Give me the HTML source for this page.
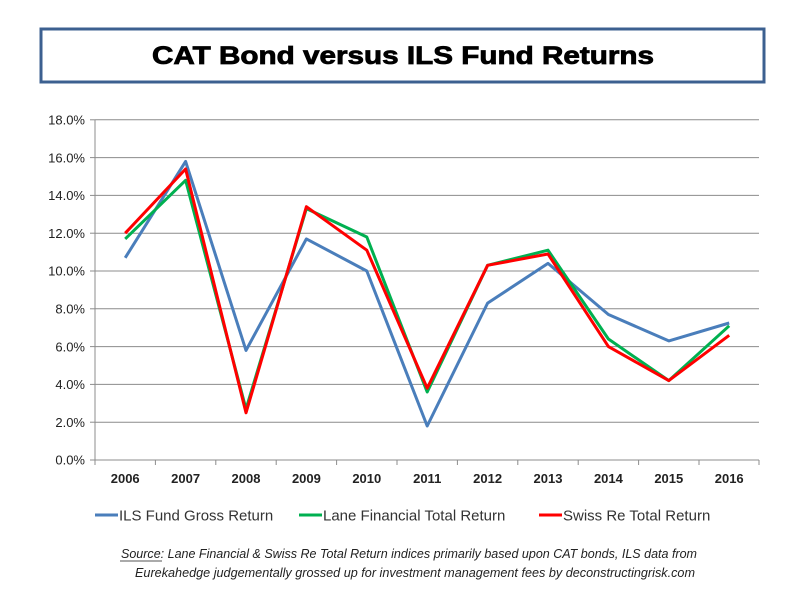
<!DOCTYPE html>
<html><head><meta charset="utf-8"><style>
body{margin:0;background:#fff;}
svg{display:block;font-family:"Liberation Sans",sans-serif;}
</style></head><body>
<svg width="800" height="600" viewBox="0 0 800 600">
<rect x="41" y="29" width="723" height="53" fill="#fff" stroke="#3c6090" stroke-width="3"/>
<text x="403" y="64" text-anchor="middle" font-size="25" font-weight="bold" fill="#000" stroke="#000" stroke-width="0.8" textLength="502" lengthAdjust="spacingAndGlyphs">CAT Bond versus ILS Fund Returns</text>
<g stroke="#8c8c8c" stroke-width="1">
<line x1="95" y1="119.8" x2="759" y2="119.8"/>
<line x1="95" y1="157.6" x2="759" y2="157.6"/>
<line x1="95" y1="195.4" x2="759" y2="195.4"/>
<line x1="95" y1="233.2" x2="759" y2="233.2"/>
<line x1="95" y1="271" x2="759" y2="271"/>
<line x1="95" y1="308.8" x2="759" y2="308.8"/>
<line x1="95" y1="346.6" x2="759" y2="346.6"/>
<line x1="95" y1="384.4" x2="759" y2="384.4"/>
<line x1="95" y1="422.2" x2="759" y2="422.2"/>
<line x1="95" y1="460" x2="759" y2="460"/>
<line x1="95" y1="119.8" x2="95" y2="460"/>
<line x1="90" y1="119.8" x2="95" y2="119.8"/><line x1="90" y1="157.6" x2="95" y2="157.6"/><line x1="90" y1="195.4" x2="95" y2="195.4"/><line x1="90" y1="233.2" x2="95" y2="233.2"/><line x1="90" y1="271" x2="95" y2="271"/><line x1="90" y1="308.8" x2="95" y2="308.8"/><line x1="90" y1="346.6" x2="95" y2="346.6"/><line x1="90" y1="384.4" x2="95" y2="384.4"/><line x1="90" y1="422.2" x2="95" y2="422.2"/><line x1="90" y1="460" x2="95" y2="460"/>
<line x1="95" y1="460" x2="95" y2="465"/><line x1="155.4" y1="460" x2="155.4" y2="465"/><line x1="215.8" y1="460" x2="215.8" y2="465"/><line x1="276.2" y1="460" x2="276.2" y2="465"/><line x1="336.6" y1="460" x2="336.6" y2="465"/><line x1="397" y1="460" x2="397" y2="465"/><line x1="457.4" y1="460" x2="457.4" y2="465"/><line x1="517.8" y1="460" x2="517.8" y2="465"/><line x1="578.2" y1="460" x2="578.2" y2="465"/><line x1="638.6" y1="460" x2="638.6" y2="465"/><line x1="699" y1="460" x2="699" y2="465"/><line x1="759" y1="460" x2="759" y2="465"/>
</g>
<g font-size="13" fill="#222" text-anchor="end">
<text x="85" y="124.5">18.0%</text><text x="85" y="162.3">16.0%</text><text x="85" y="200.1">14.0%</text><text x="85" y="237.9">12.0%</text><text x="85" y="275.7">10.0%</text><text x="85" y="313.5">8.0%</text><text x="85" y="351.3">6.0%</text><text x="85" y="389.1">4.0%</text><text x="85" y="426.9">2.0%</text><text x="85" y="464.7">0.0%</text>
</g>
<g font-size="13" font-weight="bold" fill="#222" text-anchor="middle">
<text x="125.2" y="483">2006</text><text x="185.6" y="483">2007</text><text x="246" y="483">2008</text><text x="306.4" y="483">2009</text><text x="366.8" y="483">2010</text><text x="427.2" y="483">2011</text><text x="487.6" y="483">2012</text><text x="548" y="483">2013</text><text x="608.4" y="483">2014</text><text x="668.8" y="483">2015</text><text x="729.2" y="483">2016</text>
</g>
<g fill="none" stroke-width="3" stroke-linejoin="round">
<polyline stroke="#4a7ebb" points="125.2,257.8 185.6,161.4 246,350.4 306.4,238.9 366.8,271 427.2,426 487.6,303.1 548,263.4 608.4,314.5 668.8,340.9 729.2,323"/>
<polyline stroke="#00b050" points="125.2,238.9 185.6,180.3 246,409 306.4,208.6 366.8,237 427.2,392 487.6,265.3 548,250.2 608.4,339 668.8,380.6 729.2,325.8"/>
<polyline stroke="#ff0000" points="125.2,233.2 185.6,169 246,412.8 306.4,206.7 366.8,250.2 427.2,388.2 487.6,265.3 548,254 608.4,346.6 668.8,380.6 729.2,335.3"/>
</g>
<g stroke-width="3">
<line x1="95" y1="515" x2="118" y2="515" stroke="#4a7ebb"/>
<line x1="299" y1="515" x2="322" y2="515" stroke="#00b050"/>
<line x1="539" y1="515" x2="562" y2="515" stroke="#ff0000"/>
</g>
<g font-size="15" fill="#333">
<text x="119" y="520.5">ILS Fund Gross Return</text>
<text x="323" y="520.5">Lane Financial Total Return</text>
<text x="563" y="520.5">Swiss Re Total Return</text>
</g>
<g font-size="13" font-style="italic" fill="#222" text-anchor="middle">
<text x="409" y="558" textLength="576" lengthAdjust="spacingAndGlyphs">Source: Lane Financial &amp; Swiss Re Total Return indices primarily based upon CAT bonds, ILS data from</text>
<text x="415" y="577" textLength="560" lengthAdjust="spacingAndGlyphs">Eurekahedge judgementally grossed up for investment management fees by deconstructingrisk.com</text>
</g>
<line x1="120" y1="561" x2="162" y2="561" stroke="#555" stroke-width="1"/>
</svg>
</body></html>
